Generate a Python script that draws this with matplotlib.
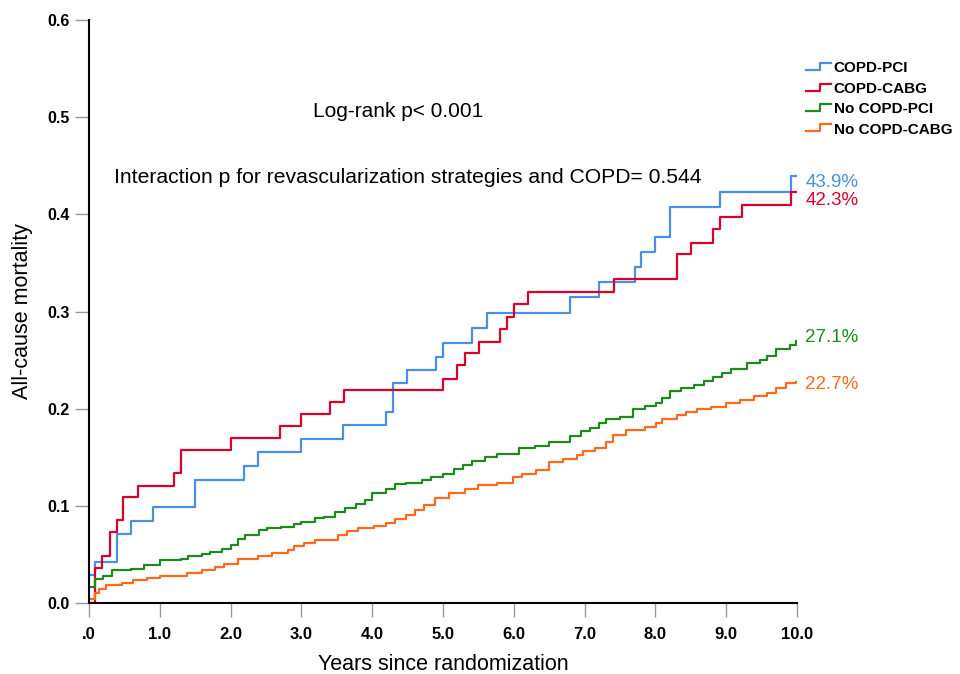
import matplotlib.pyplot as plt
from matplotlib.legend_handler import HandlerLine2D
from matplotlib.lines import Line2D

# Kaplan-Meier style cumulative mortality
copd_pci_t = [0, 0.085, 0.4, 0.59, 0.9, 1.5, 2.19, 2.39, 3.0, 3.59, 4.2, 4.3, 4.49, 4.9, 5.0,
              5.41, 5.62, 6.8, 7.2, 7.71, 7.8, 8.0, 8.2, 8.91, 9.92, 9.98]
copd_pci_v = [0.029, 0.042, 0.071, 0.084, 0.099, 0.127, 0.141, 0.155, 0.169, 0.183, 0.197, 0.226,
              0.240, 0.253, 0.268, 0.283, 0.298, 0.315, 0.330, 0.346, 0.361, 0.377, 0.408, 0.423,
              0.439, 0.439]

copd_cabg_t = [0, 0.085, 0.18, 0.3, 0.4, 0.48, 0.69, 1.2, 1.3, 2.0, 2.7, 3.0, 3.4, 3.6, 5.0, 5.2,
               5.31, 5.51, 5.8, 5.9, 6.0, 6.2, 7.42, 8.3, 8.5, 8.81, 8.91, 9.22, 9.92, 9.98]
copd_cabg_v = [0.0, 0.036, 0.048, 0.073, 0.085, 0.109, 0.120, 0.134, 0.158, 0.170, 0.182, 0.195,
               0.207, 0.219, 0.231, 0.245, 0.257, 0.269, 0.282, 0.294, 0.308, 0.320, 0.333, 0.359,
               0.371, 0.385, 0.397, 0.410, 0.423, 0.423]

nocopd_pci_t = [0, 0.09, 0.2, 0.33, 0.6, 0.78, 1.0, 1.3, 1.4, 1.6, 1.71, 1.88, 2.0, 2.1, 2.2, 2.4,
                2.52, 2.71, 2.9, 3.0, 3.19, 3.32, 3.48, 3.61, 3.77, 3.9, 4.0, 4.19, 4.32, 4.48,
                4.7, 4.83, 5.0, 5.15, 5.28, 5.41, 5.6, 5.76, 6.08, 6.3, 6.5, 6.79, 6.95, 7.08,
                7.21, 7.3, 7.5, 7.69, 7.85, 8.01, 8.1, 8.2, 8.36, 8.55, 8.68, 8.81, 8.94, 9.07,
                9.29, 9.48, 9.58, 9.71, 9.9, 9.98]
nocopd_pci_v = [0.017, 0.025, 0.028, 0.034, 0.035, 0.039, 0.044, 0.045, 0.048, 0.050, 0.053,
                0.056, 0.060, 0.066, 0.070, 0.075, 0.077, 0.078, 0.081, 0.083, 0.087, 0.089,
                0.094, 0.098, 0.102, 0.106, 0.113, 0.117, 0.122, 0.124, 0.127, 0.130, 0.133,
                0.138, 0.142, 0.146, 0.150, 0.153, 0.160, 0.162, 0.166, 0.172, 0.177, 0.180,
                0.185, 0.189, 0.191, 0.200, 0.203, 0.206, 0.211, 0.218, 0.221, 0.224, 0.228,
                0.233, 0.237, 0.241, 0.247, 0.250, 0.254, 0.261, 0.266, 0.270]

nocopd_cabg_t = [0, 0.08, 0.14, 0.24, 0.46, 0.62, 0.82, 1.0, 1.39, 1.59, 1.78, 1.91, 2.1, 2.39,
                 2.58, 2.81, 2.9, 3.03, 3.19, 3.51, 3.64, 3.8, 4.03, 4.19, 4.32, 4.48, 4.6, 4.73,
                 4.89, 5.09, 5.31, 5.5, 5.76, 5.99, 6.11, 6.31, 6.5, 6.69, 6.89, 6.98, 7.14, 7.3,
                 7.4, 7.59, 7.85, 8.01, 8.1, 8.3, 8.43, 8.59, 8.78, 9.0, 9.2, 9.39, 9.58, 9.71,
                 9.84, 9.98]
nocopd_cabg_v = [0.004, 0.010, 0.014, 0.019, 0.021, 0.024, 0.026, 0.028, 0.031, 0.034, 0.037,
                 0.040, 0.045, 0.048, 0.051, 0.055, 0.059, 0.062, 0.065, 0.070, 0.074, 0.077,
                 0.079, 0.082, 0.086, 0.091, 0.096, 0.101, 0.108, 0.113, 0.117, 0.121, 0.124,
                 0.130, 0.133, 0.137, 0.145, 0.148, 0.152, 0.156, 0.160, 0.166, 0.173, 0.178,
                 0.181, 0.185, 0.189, 0.193, 0.197, 0.200, 0.202, 0.206, 0.209, 0.213, 0.216,
                 0.221, 0.226, 0.227]

labels = ['COPD-PCI', 'COPD-CABG', 'No COPD-PCI', 'No COPD-CABG']
end_labels = ['43.9%', '42.3%', '27.1%', '22.7%']
end_label_y = [0.433, 0.414, 0.273, 0.225]
colors = ['#4a90e2', '#d9002b', '#1e8a1e', '#ff6a1f']

x_ticks = [0, 1, 2, 3, 4, 5, 6, 7, 8, 9, 10]
x_tick_labels = ['.0', '1.0', '2.0', '3.0', '4.0', '5.0', '6.0', '7.0', '8.0', '9.0', '10.0']
y_ticks = [0.0, 0.1, 0.2, 0.3, 0.4, 0.5, 0.6]

plt.rcParams['font.family'] = ['Liberation Sans', 'DejaVu Sans']


class StepHandler(HandlerLine2D):
    # legend icon shaped like a small survival step
    def create_artists(self, legend, orig_handle, xdescent, ydescent, width, height, fontsize, trans):
        x0 = -xdescent
        y0 = -ydescent
        line = Line2D([x0, x0 + width * 0.55, x0 + width * 0.55, x0 + width],
                      [y0 + height * 0.2, y0 + height * 0.2, y0 + height * 0.85, y0 + height * 0.85],
                      color=orig_handle.get_color(), lw=orig_handle.get_linewidth())
        line.set_transform(trans)
        return [line]


fig = plt.figure(figsize=(9.6, 6.74), dpi=100)
ax = fig.add_axes([0.0927, 0.1053, 0.7375, 0.865])

series = [(copd_pci_t, copd_pci_v), (copd_cabg_t, copd_cabg_v),
          (nocopd_pci_t, nocopd_pci_v), (nocopd_cabg_t, nocopd_cabg_v)]
handles = []
for (t, v), c, lab in zip(series, colors, labels):
    h, = ax.step(t, v, where='post', color=c, lw=1.6, label=lab)
    handles.append(h)

for txt, yy, c in zip(end_labels, end_label_y, colors):
    ax.text(10.12, yy, txt, color=c, fontsize=13.5, va='center', ha='left', clip_on=False)

ax.text(4.37, 0.506, 'Log-rank p< 0.001', fontsize=15, ha='center', va='center')
ax.text(0.36, 0.438, 'Interaction p for revascularization strategies and COPD= 0.544',
        fontsize=15.2, ha='left', va='center')

ax.set_xlim(0, 10)
ax.set_ylim(0, 0.6)
ax.set_xticks(x_ticks)
ax.set_xticklabels(x_tick_labels, fontweight='bold', fontsize=12)
ax.set_yticks(y_ticks)
ax.set_yticklabels(['%.1f' % y for y in y_ticks], fontweight='bold', fontsize=11.5)
ax.tick_params(axis='both', direction='out', length=10, width=1, color='#999999', pad=4)
ax.tick_params(axis='x', pad=7)

for s in ['top', 'right']:
    ax.spines[s].set_visible(False)
ax.spines['left'].set_linewidth(1.5)
ax.spines['bottom'].set_linewidth(1.5)

ax.set_xlabel('Years since randomization', fontsize=15.5, labelpad=9)
ax.set_ylabel('All-cause mortality', fontsize=15.5, labelpad=10)

leg = ax.legend(handles=handles, labels=labels, loc='upper left', bbox_to_anchor=(1.0, 0.945),
                frameon=False, handler_map={Line2D: StepHandler()}, handlelength=1.6,
                handletextpad=0.2, labelspacing=0.42, borderaxespad=0.2,
                prop={'weight': 'bold', 'size': 11})

fig.savefig('out.png', dpi=100)
